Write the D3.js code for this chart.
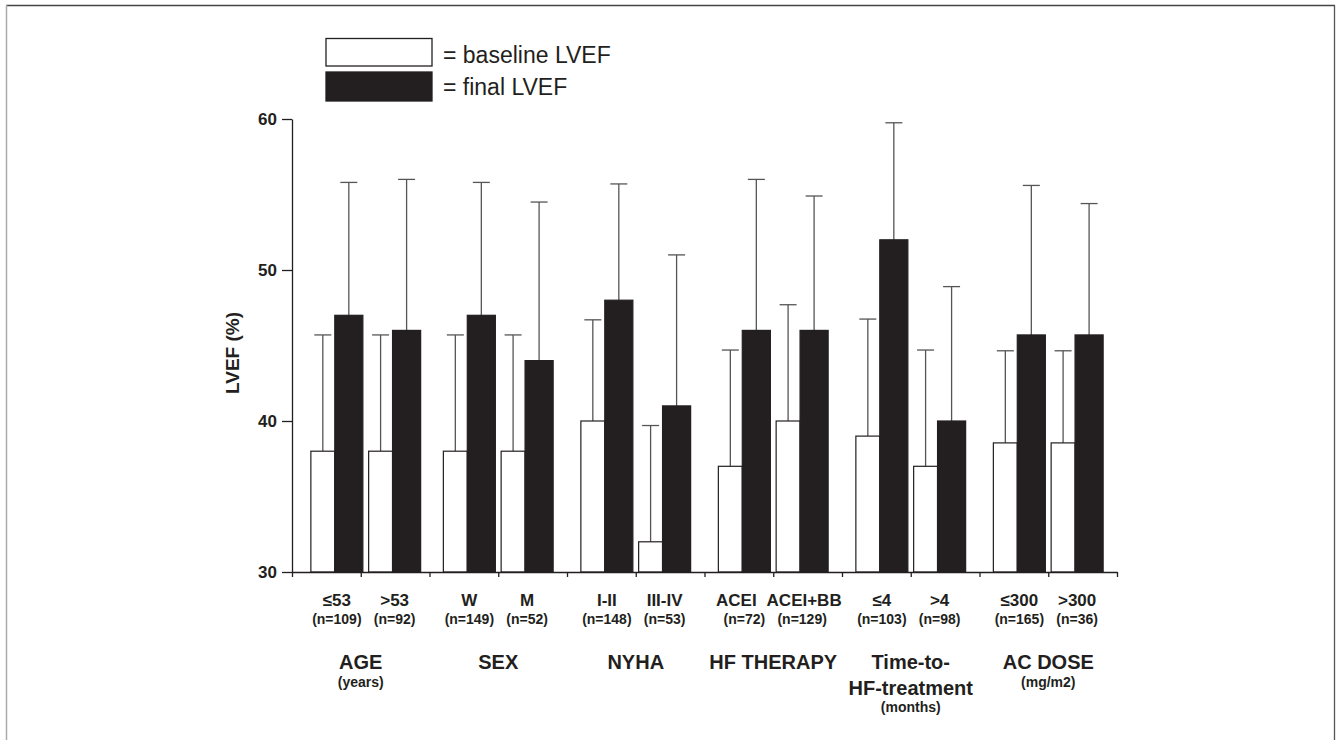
<!DOCTYPE html>
<html>
<head>
<meta charset="utf-8">
<script src="https://cdn.jsdelivr.net/npm/d3@7"></script>
<style>
  body { margin: 0; background: #fff; }
  svg { font-family: "Liberation Sans", Arial, Helvetica, sans-serif; }
  .axis path, .axis line { stroke: #231f20; stroke-width: 1.3; }
  .axis text { font-size: 17px; font-weight: bold; fill: #231f20; }
  .bold { font-weight: bold; fill: #231f20; }
</style>
</head>
<body>
<div id="chart-area"><svg></svg></div>
<script>
const chartSize = { width: 1340, height: 740 };
const plot = { left: 292, right: 1117, top: 119, bottom: 572 };

const subgroups = ["≤53", ">53", "W", "M", "I-II", "III-IV", "ACEI", "ACEI+BB", "≤4", ">4", "≤300", ">300"];
const counts = ["(n=109)", "(n=92)", "(n=149)", "(n=52)", "(n=148)", "(n=53)", "(n=72)", "(n=129)", "(n=103)", "(n=98)", "(n=165)", "(n=36)"];
const groups = ["AGE", "SEX", "NYHA", "HF THERAPY", "Time-to-HF-treatment", "AC DOSE"];
const groupTitleLines = [["AGE"], ["SEX"], ["NYHA"], ["HF THERAPY"], ["Time-to-", "HF-treatment"], ["AC DOSE"]];
const groupUnits = ["(years)", "", "", "", "(months)", "(mg/m2)"];

const baseline = [38, 38, 38, 38, 40, 32, 37, 40, 39, 37, 38.55, 38.55];
const baselineSD = [7.7, 7.7, 7.7, 7.7, 6.7, 7.7, 7.7, 7.7, 7.75, 7.7, 6.1, 6.1];
const final = [47, 46, 47, 44, 48, 41, 46, 46, 52, 40, 45.7, 45.7];
const finalSD = [8.8, 10, 8.8, 10.5, 7.7, 10, 10, 8.9, 7.75, 8.9, 9.9, 8.7];

const yTicks = [30, 40, 50, 60];
const legendLabels = ["= baseline LVEF", "= final LVEF"];

const ink = "#231f20";
const whiskerColor = "#555";
// small hand nudges seen in the original figure
const groupNudge = [5, 0, 0, 0, 0, 0];
const labelNudge = { "ACEI": -8, "ACEI+BB": 2 };

const drawFrame = svg => {
  svg.append("line")
    .attr("x1", 6).attr("x2", 1335).attr("y1", 5.5).attr("y2", 5.5)
    .attr("stroke", "#444").attr("stroke-width", 1.3);
  svg.append("line")
    .attr("x1", 6.5).attr("x2", 6.5).attr("y1", 5).attr("y2", 740)
    .attr("stroke", "#aaa").attr("stroke-width", 1.5);
  svg.append("line")
    .attr("x1", 1334.5).attr("x2", 1334.5).attr("y1", 5).attr("y2", 740)
    .attr("stroke", "#555").attr("stroke-width", 1.3);
};

const drawLegend = svg => {
  const legend = svg.append("g").attr("class", "legend");
  legendLabels.forEach((label, i) => {
    const top = i === 0 ? 38.5 : 72;
    legend.append("rect")
      .attr("x", 326).attr("y", top)
      .attr("width", 106).attr("height", i === 0 ? 27.5 : 29)
      .attr("fill", i === 0 ? "#fff" : ink)
      .attr("stroke", ink).attr("stroke-width", 1.3);
    legend.append("text")
      .attr("x", 443).attr("y", i === 0 ? 63 : 95)
      .attr("font-size", 23)
      .attr("fill", ink)
      .text(label);
  });
};

const initChart = () => {
  const svg = d3.select("#chart-area svg")
    .attr("width", chartSize.width)
    .attr("height", chartSize.height);

  drawFrame(svg);
  drawLegend(svg);

  const y = d3.scaleLinear().domain([30, 60]).range([plot.bottom, plot.top]);

  const xGroup = d3.scaleBand().domain(groups).range([plot.left, plot.right]);
  const xPair = d3.scaleBand()
    .domain([0, 1])
    .range([0, xGroup.bandwidth()])
    .paddingInner(0.1)
    .paddingOuter(0.24);
  const xTick = d3.scaleLinear().domain([0, subgroups.length]).range([plot.left, plot.right]);

  const pairX = i => {
    const gi = Math.floor(i / 2);
    return xGroup(groups[gi]) + xPair(i % 2) + groupNudge[gi];
  };
  const whiteW = xPair.bandwidth() * 0.46;
  const blackW = xPair.bandwidth() - whiteW;

  const yAxis = d3.axisLeft(y).tickValues(yTicks).tickSize(10).tickSizeOuter(0).tickPadding(5);
  svg.append("g")
    .attr("class", "axis y-axis")
    .attr("transform", `translate(${plot.left}, 0)`)
    .call(yAxis);

  svg.append("text")
    .attr("class", "bold")
    .attr("transform", "rotate(-90)")
    .attr("x", -353)
    .attr("y", 239)
    .attr("text-anchor", "middle")
    .attr("font-size", 19)
    .text("LVEF (%)");

  const bars = svg.append("g").attr("class", "bars");

  subgroups.forEach((s, i) => {
    const x0 = pairX(i);
    const g = bars.append("g");

    const series = [
      { x: x0, w: whiteW, v: baseline[i], sd: baselineSD[i], fill: "#fff" },
      { x: x0 + whiteW, w: blackW, v: final[i], sd: finalSD[i], fill: ink }
    ];

    series.forEach(d => {
      const cx = d.x + d.w / 2;
      g.append("line")
        .attr("x1", cx).attr("x2", cx)
        .attr("y1", y(d.v)).attr("y2", y(d.v + d.sd))
        .attr("stroke", whiskerColor).attr("stroke-width", 1.3);
      g.append("line")
        .attr("x1", cx - 8.5).attr("x2", cx + 8.5)
        .attr("y1", y(d.v + d.sd)).attr("y2", y(d.v + d.sd))
        .attr("stroke", whiskerColor).attr("stroke-width", 1.3);
    });

    series.forEach(d => {
      g.append("rect")
        .attr("x", d.x)
        .attr("y", y(d.v))
        .attr("width", d.w)
        .attr("height", y(30) - y(d.v))
        .attr("fill", d.fill)
        .attr("stroke", ink)
        .attr("stroke-width", 1.2);
    });

    const cx = x0 + xPair.bandwidth() / 2;
    svg.append("text")
      .attr("class", "bold")
      .attr("x", cx + (labelNudge[s] || 0)).attr("y", 606)
      .attr("text-anchor", "middle")
      .attr("font-size", 17)
      .text(s);
    svg.append("text")
      .attr("class", "bold")
      .attr("x", cx).attr("y", 624)
      .attr("text-anchor", "middle")
      .attr("font-size", 14)
      .text(counts[i]);
  });

  const xAxis = d3.axisBottom(xTick)
    .ticks(subgroups.length)
    .tickFormat("")
    .tickSizeInner(5)
    .tickSizeOuter(0);
  svg.append("g")
    .attr("class", "axis x-axis")
    .attr("transform", `translate(0, ${plot.bottom})`)
    .call(xAxis);

  groups.forEach((grp, i) => {
    const cx = xGroup(grp) + xGroup.bandwidth() / 2;
    const lines = groupTitleLines[i];
    lines.forEach((line, j) => {
      svg.append("text")
        .attr("class", "bold")
        .attr("x", cx).attr("y", 669 + j * 26)
        .attr("text-anchor", "middle")
        .attr("font-size", 20)
        .text(line);
    });
    if (groupUnits[i]) {
      svg.append("text")
        .attr("class", "bold")
        .attr("x", cx).attr("y", lines.length > 1 ? 712 : 687)
        .attr("text-anchor", "middle")
        .attr("font-size", 14)
        .text(groupUnits[i]);
    }
  });
};

window.onload = initChart;
</script>
</body>
</html>
